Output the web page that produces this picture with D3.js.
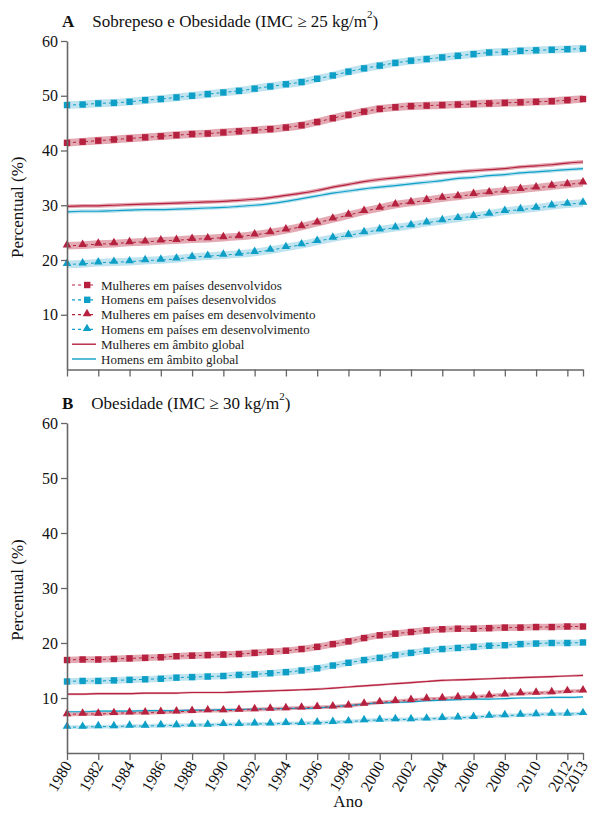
<!DOCTYPE html>
<html><head><meta charset="utf-8">
<script src="https://cdn.jsdelivr.net/npm/d3@7"></script>
<style>body{margin:0;background:#fff}svg{display:block}svg text{font-family:"Liberation Serif",Tinos,"Times New Roman",serif !important}</style>
</head><body>
<script>
const years = d3.range(1980, 2014);
const xTickValues = [1980,1982,1984,1986,1988,1990,1992,1994,1996,1998,2000,2002,2004,2006,2008,2010,2012,2013];
const yTickValues = [10,20,30,40,50,60];

// Panel A: Sobrepeso e Obesidade
const aWomenDev = [41.4,41.6,41.8,42.0,42.2,42.4,42.6,42.8,43.0,43.1,43.3,43.5,43.7,43.9,44.2,44.6,45.2,45.9,46.5,47.1,47.6,47.9,48.1,48.2,48.3,48.4,48.5,48.6,48.7,48.8,48.9,49.0,49.2,49.4];
const aMenDev = [48.3,48.4,48.6,48.7,48.9,49.2,49.4,49.7,50.0,50.3,50.6,50.9,51.3,51.7,52.1,52.5,53.1,53.7,54.4,55.0,55.5,56.0,56.4,56.7,57.0,57.3,57.6,57.9,58.0,58.2,58.3,58.4,58.5,58.6];
const aWomenDeving = [22.6,22.7,22.9,23.0,23.2,23.3,23.5,23.6,23.8,23.9,24.1,24.3,24.6,25.0,25.5,26.1,26.8,27.5,28.2,28.9,29.5,30.1,30.5,30.9,31.3,31.6,32.0,32.3,32.6,32.9,33.2,33.5,33.8,34.1];
const aMenDeving = [19.2,19.3,19.5,19.6,19.7,19.9,20.0,20.2,20.5,20.7,20.9,21.1,21.4,21.8,22.3,22.8,23.4,24.0,24.5,25.0,25.5,25.9,26.3,26.8,27.2,27.6,28.0,28.4,28.9,29.2,29.5,29.9,30.2,30.4];
const aWomenGlobal = [29.8,29.9,29.9,30.0,30.1,30.2,30.3,30.4,30.5,30.6,30.7,30.9,31.1,31.4,31.8,32.2,32.7,33.3,33.8,34.3,34.7,35.0,35.3,35.6,35.9,36.1,36.3,36.5,36.7,37.0,37.2,37.4,37.7,37.9];
const aMenGlobal = [28.8,28.9,28.9,29.0,29.1,29.2,29.2,29.3,29.4,29.5,29.6,29.8,30.0,30.3,30.7,31.2,31.7,32.2,32.6,33.0,33.3,33.6,33.9,34.2,34.5,34.9,35.1,35.4,35.6,35.9,36.1,36.3,36.5,36.7];

// Panel B: Obesidade
const bWomenDev = [16.9,17.0,17.0,17.1,17.2,17.3,17.4,17.6,17.7,17.8,17.9,18.0,18.2,18.4,18.6,18.9,19.3,19.8,20.3,20.9,21.4,21.7,22.0,22.3,22.5,22.6,22.6,22.7,22.8,22.8,22.9,22.9,23.0,23.0];
const bMenDev = [13.0,13.1,13.1,13.2,13.3,13.4,13.5,13.7,13.8,13.9,14.0,14.2,14.3,14.5,14.7,15.0,15.4,15.9,16.4,16.9,17.3,17.8,18.2,18.6,18.9,19.1,19.3,19.5,19.6,19.8,19.9,20.0,20.0,20.1];
const bWomenDeving = [7.0,7.1,7.1,7.2,7.3,7.3,7.4,7.5,7.6,7.7,7.7,7.8,7.9,8.0,8.1,8.2,8.3,8.4,8.6,8.9,9.2,9.4,9.6,9.8,9.9,10.1,10.2,10.4,10.6,10.8,10.9,11.0,11.2,11.3];
const bMenDeving = [4.7,4.7,4.8,4.8,4.9,4.9,5.0,5.0,5.1,5.1,5.2,5.2,5.3,5.3,5.4,5.4,5.5,5.6,5.7,5.9,6.0,6.1,6.1,6.2,6.3,6.4,6.5,6.7,6.8,6.9,7.0,7.1,7.1,7.2];
const bWomenGlobal = [10.7,10.7,10.8,10.8,10.8,10.9,10.9,10.9,11.0,11.0,11.0,11.1,11.2,11.3,11.4,11.5,11.6,11.8,12.0,12.2,12.4,12.6,12.8,13.0,13.2,13.3,13.4,13.5,13.6,13.7,13.8,13.9,14.0,14.1];
const bMenGlobal = [7.5,7.5,7.6,7.6,7.6,7.7,7.7,7.7,7.8,7.8,7.9,7.9,8.0,8.0,8.1,8.1,8.2,8.4,8.6,8.9,9.1,9.2,9.3,9.5,9.6,9.7,9.8,9.8,9.9,10.0,10.0,10.1,10.1,10.2];

// uncertainty half-widths (percentage points)
const bandA = [0.7, 0.7, 0.7, 0.7, 0.35, 0.35];
const bandB = [0.6, 0.6, 0.35, 0.35, 0.2, 0.2];

const legendLabels = ["Mulheres em países desenvolvidos","Homens em países desenvolvidos","Mulheres em países em desenvolvimento","Homens em países em desenvolvimento","Mulheres em âmbito global","Homens em âmbito global"];

const FONT = '"Liberation Serif", Tinos, "Times New Roman", serif';
const RED = "#b5213f", BLUE = "#0e9fc7", RED_BAND = "#d98d99", BLUE_BAND = "#a9d9ea";
const styles = [
  {c:RED, b:RED_BAND, m:"square"},
  {c:BLUE, b:BLUE_BAND, m:"square"},
  {c:RED, b:RED_BAND, m:"triangle"},
  {c:BLUE, b:BLUE_BAND, m:"triangle"},
  {c:RED, b:RED_BAND, m:null},
  {c:BLUE, b:BLUE_BAND, m:null}
];

const W = 589, H = 814;
const svg = d3.select("body").append("svg").attr("width", W).attr("height", H).attr("font-family", FONT);
const x = d3.scaleLinear().domain([1980, 2013]).range([67, 583]);

function panel(top, bottom, series, bands, letter, titleMain, titleVal, showXLabels, showLegend) {
  const y = d3.scaleLinear().domain([0, 60]).range([bottom, top]);
  const g = svg.append("g");
  const drawOrder = [4,5,3,2,1,0];
  drawOrder.forEach(i => {
    const vals = series[i], st = styles[i], hw = bands[i];
    const area = d3.area().x((d,k)=>x(years[k])).y0(d=>y(d-hw)).y1(d=>y(d+hw)).curve(d3.curveMonotoneX);
    g.append("path").attr("d", area(vals)).attr("fill", st.b).attr("opacity", 0.75);
  });
  drawOrder.forEach(i => {
    const vals = series[i], st = styles[i];
    const line = d3.line().x((d,k)=>x(years[k])).y(d=>y(d)).curve(d3.curveMonotoneX);
    const p = g.append("path").attr("d", line(vals)).attr("fill","none").attr("stroke", st.c);
    if (st.m) { p.attr("stroke-width", 1).attr("stroke-dasharray", "3,3"); }
    else { p.attr("stroke-width", 1.2); }
    if (st.m === "square") {
      g.selectAll(null).data(vals).enter().append("rect")
        .attr("x",(d,k)=>x(years[k])-3.2).attr("y",d=>y(d)-3.2).attr("width",6.4).attr("height",6.4).attr("fill",st.c);
    } else if (st.m === "triangle") {
      const sym = d3.symbol().type(d3.symbolTriangle).size(32);
      g.selectAll(null).data(vals).enter().append("path")
        .attr("d", sym).attr("transform",(d,k)=>`translate(${x(years[k])},${y(d)-0.8})`).attr("fill",st.c);
    }
  });

  const ya = g.append("g").attr("transform","translate(67,0)")
    .call(d3.axisLeft(y).tickValues(yTickValues).tickSize(6).tickSizeOuter(0).tickPadding(3));
  ya.attr("font-family", FONT);
  ya.select(".domain").attr("stroke","#666").attr("stroke-width",1.6);
  ya.selectAll(".tick line").attr("stroke","#666").attr("stroke-width",1.3);
  ya.selectAll("text").attr("font-size",16).attr("fill","#111");

  const xa = g.append("g").attr("transform",`translate(0,${bottom})`)
    .call(d3.axisBottom(x).tickValues(xTickValues).tickSize(7).tickSizeOuter(0).tickFormat(d3.format("d")));
  xa.attr("font-family", FONT);
  xa.select(".domain").attr("stroke","#666").attr("stroke-width",1.6);
  xa.selectAll(".tick line").attr("stroke","#666").attr("stroke-width",1.3);
  if (showXLabels) {
    xa.selectAll("text").attr("font-size",16).attr("fill","#111")
      .attr("text-anchor","end").attr("dy",null).attr("y",0)
      .attr("transform","translate(5,12) rotate(-60)");
  } else {
    xa.selectAll("text").remove();
  }

  const t = svg.append("text").attr("x", 62).attr("y", top - 14).attr("font-size", 17).attr("fill","#111");
  t.append("tspan").attr("font-weight","bold").text(letter);
  t.append("tspan").attr("dx", 18).text(titleMain + " (IMC \u2265 " + titleVal + " kg/m");
  t.append("tspan").attr("font-size", 11).attr("dy", -9).text("2");
  t.append("tspan").attr("dy", 9).text(")");

  svg.append("text").attr("transform",`translate(23,${(top+bottom)/2 + 2}) rotate(-90)`)
    .attr("text-anchor","middle").attr("font-size",17).attr("fill","#111").text("Percentual (%)");

  if (showLegend) {
    const lg = svg.append("g");
    legendLabels.forEach((lab, i) => {
      const st = styles[i];
      const yy = 285 + i * 14.8;
      const ln = lg.append("line").attr("x1",72).attr("x2",96).attr("y1",yy).attr("y2",yy).attr("stroke",st.c);
      if (st.m) {
        ln.attr("stroke-dasharray","3,3").attr("stroke-width",1.2);
        if (st.m === "square") lg.append("rect").attr("x",84).attr("y",yy-3.2).attr("width",6.4).attr("height",6.4).attr("fill",st.c);
        else lg.append("path").attr("d", d3.symbol().type(d3.symbolTriangle).size(32)).attr("transform",`translate(87,${yy-0.8})`).attr("fill",st.c);
      } else {
        ln.attr("stroke-width", 1.4);
      }
      lg.append("text").attr("x",101).attr("y",yy+4.5).attr("font-size",13).attr("fill","#222").text(lab);
    });
  }
}

panel(41, 369.5, [aWomenDev,aMenDev,aWomenDeving,aMenDeving,aWomenGlobal,aMenGlobal], bandA, "A", "Sobrepeso e Obesidade", "25", false, true);
panel(423, 753, [bWomenDev,bMenDev,bWomenDeving,bMenDeving,bWomenGlobal,bMenGlobal], bandB, "B", "Obesidade", "30", true, false);

svg.append("text").attr("x", 348).attr("y", 807).attr("text-anchor","middle").attr("font-size",17).attr("fill","#111").text("Ano");
</script>
</body></html>
